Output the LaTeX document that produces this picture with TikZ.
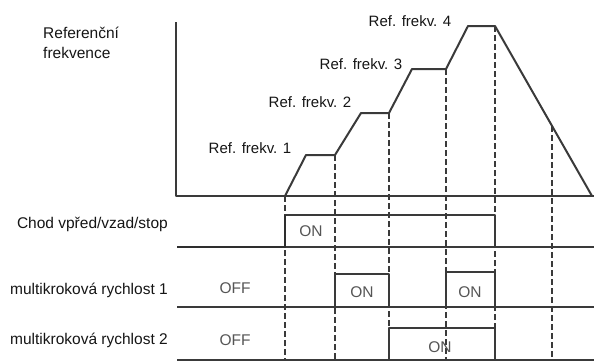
\documentclass[tikz,border=0pt]{standalone}
\usepackage{fontspec}
\setmainfont{Liberation Sans}
\definecolor{lc}{HTML}{3A3A3A}
\definecolor{tc}{HTML}{151515}
\definecolor{gc}{HTML}{555555}
\begin{document}
\begin{tikzpicture}[x=1pt,y=-1pt,
 ln/.style={draw=lc, line width=1.6pt, line join=round},
 thk/.style={draw=lc!80!black, line width=2.6pt},
 dsh/.style={draw=lc, line width=1.2pt, dash pattern=on 6pt off 3pt},
 lbl/.style={font=\fontsize{15.5}{19}\selectfont, text=tc, inner sep=0pt, anchor=base east},
 st/.style={font=\fontsize{15.5}{19}\selectfont, text=gc, inner sep=0pt, anchor=base},
 ref/.style={font=\fontsize{15}{18}\selectfont, text=tc, inner sep=1.5pt, fill=white, anchor=base}]
\useasboundingbox (0,0) rectangle (594,362);
% axis and frequency profile
\coordinate (ax) at (175.5,22);
\coordinate (o) at (175.5,196);
\coordinate (re) at (594,196);
\coordinate (p0) at (285,196);
\coordinate (p1) at (306,155);
\coordinate (p2) at (335,155);
\coordinate (p3) at (361,113);
\coordinate (p4) at (389,113);
\coordinate (p5) at (412,69);
\coordinate (p6) at (446,69);
\coordinate (p7) at (468,26);
\coordinate (p8) at (495,26);
\coordinate (p9) at (592,196);
\coordinate (p10) at (552,126);
% bottom ends of dashed guides
\coordinate (b0) at (285,360);
\coordinate (b2) at (335,360);
\coordinate (b4) at (389,360);
\coordinate (b6) at (446,360);
\coordinate (b8) at (495,360);
\coordinate (b10) at (552,360);
% dashed guides
\draw[dsh] (p0) -- (b0);
\draw[dsh] (p2) -- (b2);
\draw[dsh] (p4) -- (b4);
\draw[dsh] (p6) -- (b6);
\draw[dsh] (p8) -- (b8);
\draw[dsh] (p10) -- (b10);
% axis
\draw[ln, line width=2pt] (ax) -- (o) -- (re);
\draw[ln, line width=2pt] (p0) -- (p1) -- (p2) -- (p3) -- (p4) -- (p5) -- (p6) -- (p7) -- (p8) -- (p9);
% Chod row
\coordinate (c0) at (177,247);
\coordinate (c1) at (285,247);
\coordinate (c2) at (285,215);
\coordinate (c3) at (495,215);
\coordinate (c4) at (495,247);
\coordinate (c5) at (594,247);
\draw[ln] (c1) -- (c5);
\draw[ln] (c2) -- (c3) -- (c4);
\draw[thk] (c0) -- (c1) -- (c2);
% multistep 1 row
\coordinate (m0) at (177,307);
\coordinate (m1) at (335,307);
\coordinate (m2) at (335,274);
\coordinate (m3) at (389,274);
\coordinate (m4) at (389,307);
\coordinate (m5) at (446,307);
\coordinate (m6) at (446,272);
\coordinate (m7) at (495,272);
\coordinate (m8) at (495,307);
\coordinate (m9) at (594,307);
\draw[ln] (m0) -- (m9);
\draw[ln] (m1) -- (m2) -- (m3) -- (m4);
\draw[ln] (m5) -- (m6) -- (m7) -- (m8);
% multistep 2 row
\coordinate (n0) at (177,360);
\coordinate (n1) at (389,360);
\coordinate (n2) at (389,328);
\coordinate (n3) at (495,328);
\coordinate (n4) at (495,360);
\coordinate (n5) at (594,360);
\draw[ln] (n0) -- (n5);
\draw[ln] (n1) -- (n2) -- (n3) -- (n4);
% labels
\node[font=\fontsize{15.5}{19}\selectfont, text=tc, inner sep=0pt, anchor=base west, align=left] (yl) at (43,58) {Referenční\\[0.5pt]frekvence};
\node[ref] (r1) at (250,153) {Ref. frekv. 1};
\node[ref] (r2) at (310,107) {Ref. frekv. 2};
\node[ref] (r3) at (361,69) {Ref. frekv. 3};
\node[ref] (r4) at (410,26) {Ref. frekv. 4};
\node[lbl] (lc) at (168,228) {Chod vpřed/vzad/stop};
\node[lbl] (lm1) at (168,294) {multikroková rychlost 1};
\node[lbl] (lm2) at (168,344) {multikroková rychlost 2};
\node[st] (on0) at (311,236) {ON};
\node[st] (off1) at (235,293) {OFF};
\node[st] (on1) at (362,297) {ON};
\node[st] (on2) at (470,297) {ON};
\node[st] (off2) at (235,345) {OFF};
\node[st] (on3) at (440,352) {ON};
\end{tikzpicture}
\end{document}
